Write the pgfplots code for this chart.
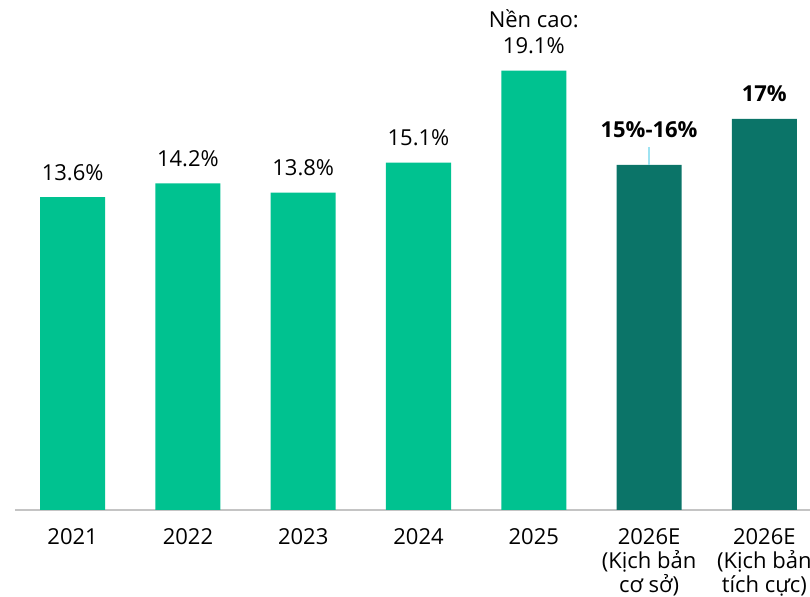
\documentclass[border=0pt]{standalone}
\usepackage{fontspec}
\setmainfont{Open Sans}
\usepackage{pgfplots}
\pgfplotsset{compat=1.18}
\definecolor{lightbar}{HTML}{00C290}
\definecolor{darkbar}{HTML}{0B7468}
\definecolor{errline}{HTML}{9EE3F2}
\definecolor{axgray}{HTML}{C4C4C4}
\begin{document}
\begin{tikzpicture}
\begin{axis}[
  anchor=south west, at={(0,0)},
  scale only axis,
  width=397.5pt, height=255pt,
  xmin=-0.5, xmax=6.396,
  ymin=0, ymax=22.17,
  axis x line*=bottom,
  hide y axis,
  axis line style={-, draw=axgray, line width=0.8pt},
  xtick={0,1,2,3,4,5,6},
  xticklabels={2021,2022,2023,2024,2025,{2026E\\(Kịch bản\\cơ sở)},{2026E\\(Kịch bản\\tích cực)}},
  major tick length=0pt,
  xticklabel style={align=center, font=\fontsize{11}{12}\selectfont, text=black, inner sep=0pt, anchor=north, yshift=-9pt},
  ybar, bar width=0.564,
  clip=false,
]
\addplot[fill=lightbar, draw=none, bar shift=0pt] coordinates {(0,13.6) (1,14.2) (2,13.8) (3,15.1) (4,19.1)};
\addplot[fill=darkbar, draw=none, bar shift=0pt] coordinates {(5,15) (6,17)};
\addplot[sharp plot, errline, line width=1pt, forget plot] coordinates {(5,15) (5,15.8)};
\node[font=\fontsize{11}{13}\selectfont, anchor=base, inner sep=0pt] at (axis cs:0,13.6) [yshift=8.5pt] {13.6\%};
\node[font=\fontsize{11}{13}\selectfont, anchor=base, inner sep=0pt] at (axis cs:1,14.2) [yshift=8.5pt] {14.2\%};
\node[font=\fontsize{11}{13}\selectfont, anchor=base, inner sep=0pt] at (axis cs:2,13.8) [yshift=8.5pt] {13.8\%};
\node[font=\fontsize{11}{13}\selectfont, anchor=base, inner sep=0pt] at (axis cs:3,15.1) [yshift=8.5pt] {15.1\%};
\node[font=\fontsize{11}{13}\selectfont, anchor=base, inner sep=0pt] at (axis cs:4,19.1) [yshift=8.5pt] {19.1\%};
\node[font=\fontsize{11}{13}\selectfont, anchor=base, inner sep=0pt] at (axis cs:4,19.1) [yshift=21.5pt] {Nền cao:};
\node[font=\fontsize{11}{13}\selectfont\bfseries, anchor=base, inner sep=0pt] at (axis cs:5,15) [yshift=13.5pt] {15\%-16\%};
\node[font=\fontsize{11}{13}\selectfont\bfseries, anchor=base, inner sep=0pt] at (axis cs:6,17) [yshift=8.5pt] {17\%};
\end{axis}
\pgfresetboundingbox
\path (-7.5pt,-43.5pt) rectangle (397.5pt,255pt);
\end{tikzpicture}
\end{document}
